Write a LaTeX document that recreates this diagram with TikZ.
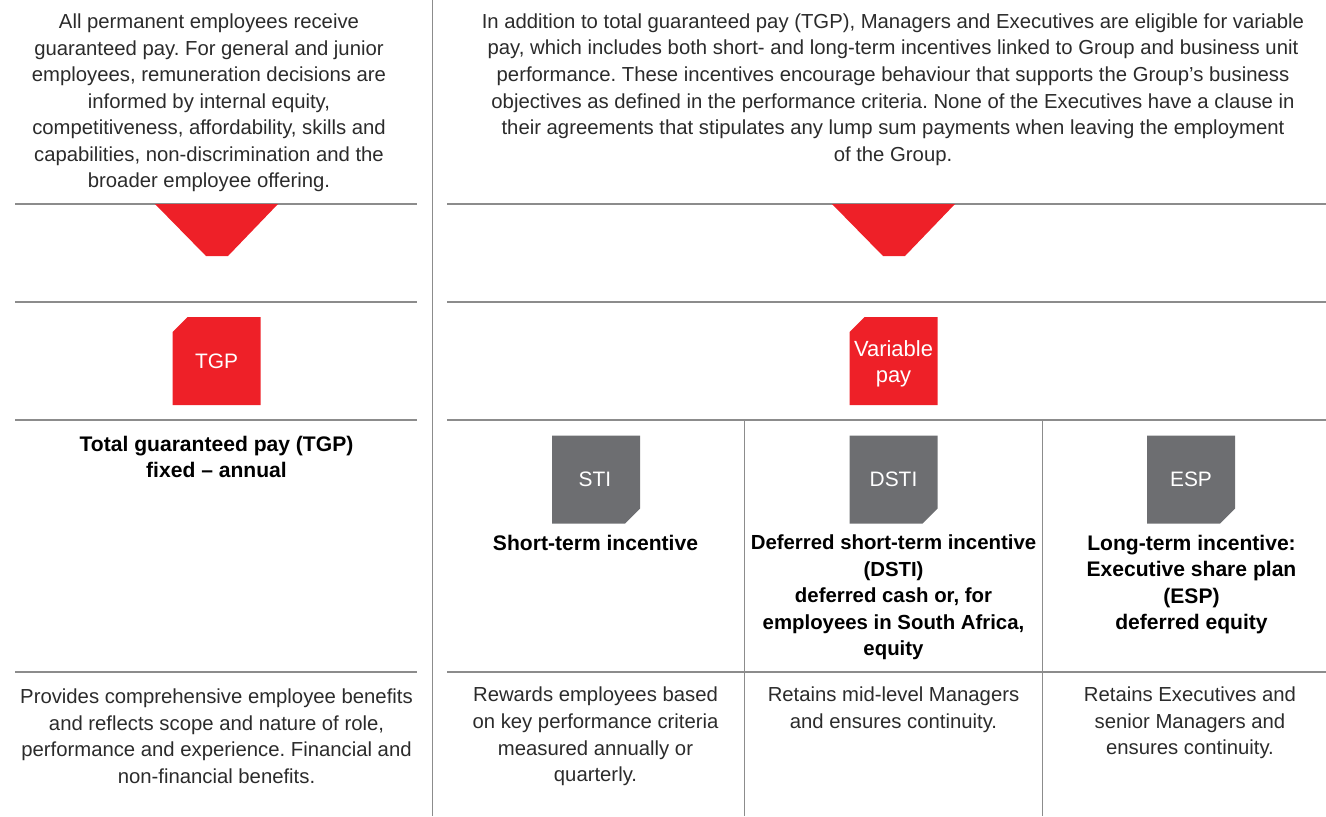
\documentclass[tikz,border=0pt]{standalone}
\usepackage{fontspec}
\setmainfont{Liberation Sans}
\usepackage{xcolor}
\usetikzlibrary{positioning}
\definecolor{sbred}{HTML}{EE2028}
\definecolor{sbgray}{HTML}{6D6E71}
\definecolor{ruleline}{HTML}{8C8C8C}
\definecolor{bodyink}{HTML}{2B2B2B}
\tikzset{
 rule/.style={ruleline, line width=0.025cm},
 bodytext/.style={inner sep=0pt, align=center, text=bodyink, font=\fontsize{11.55}{15.1}\selectfont\frenchspacing},
 headtext/.style={inner sep=0pt, align=center, text=black, font=\fontsize{12}{15.1}\selectfont\bfseries},
 tagtext/.style={inner sep=0pt, align=center, text=white, font=\fontsize{11.9}{15.1}\selectfont},
}
\begin{document}
\begin{tikzpicture}[x=0.02cm,y=-0.02cm]
\useasboundingbox (0,0) rectangle (1326,816);

% rules
\draw[rule] (15,204)--(417,204);
\draw[rule] (15,302)--(417,302);
\draw[rule] (15,420)--(417,420);
\draw[rule] (15,672)--(417,672);
\draw[rule] (447,204)--(1326,204);
\draw[rule] (447,302)--(1326,302);
\draw[rule] (447,420)--(1326,420);
\draw[rule] (447,672)--(1326,672);
\draw[rule] (432.5,0)--(432.5,816);
\draw[rule] (744.5,420)--(744.5,816);
\draw[rule] (1042.5,420)--(1042.5,816);

% red funnels
\fill[sbred] (155,204)--(278,204)--(228,256)--(206,256)--cycle;
\fill[sbred] (832,204)--(955,204)--(905,256)--(883,256)--cycle;

% tags
\fill[sbred] (172.5,332)--++(15,-15)--++(73,0)--++(0,88)--++(-88,0)--cycle;
\fill[sbred] (849.5,332)--++(15,-15)--++(73,0)--++(0,88)--++(-88,0)--cycle;
\foreach \tagx in {552,849.5,1147}
{
\fill[sbgray] (\tagx,435.5)--++(88,0)--++(0,73)--++(-15,15)--++(-73,0)--cycle;
}
\node[tagtext] (tgp) at (216.5,361) {TGP};
\node[tagtext, font=\fontsize{12.5}{15.1}\selectfont] (variable) at (893.5,364) {Variable\\pay};
\node[tagtext] (sti) at (595,479.5) {STI};
\node[tagtext] (dsti) at (893.5,479.5) {DSTI};
\node[tagtext] (esp) at (1191,479.5) {ESP};

% top texts
\node[bodytext] (topleft) at (209,103) {All permanent employees receive\\guaranteed pay. For general and junior\\employees, remuneration decisions are\\informed by internal equity,\\competitiveness, affordability, skills and\\capabilities, non-discrimination and the\\broader employee offering.};
\node[bodytext] (topright) at (893,89.5) {In addition to total guaranteed pay (TGP), Managers and Executives are eligible for variable\\pay, which includes both short- and long-term incentives linked to Group and business unit\\performance. These incentives encourage behaviour that supports the Group’s business\\objectives as defined in the performance criteria. None of the Executives have a clause in\\their agreements that stipulates any lump sum payments when leaving the employment\\of the Group.};

% headings
\node[headtext] (tgphead) at (216.5,457) {Total guaranteed pay (TGP)\\fixed – annual};
\node[headtext] (stihead) at (595.5,542.5) {Short-term incentive};
\node[headtext, font=\fontsize{11.6}{15.1}\selectfont\bfseries] (dstihead) at (893.5,597.5) {Deferred short-term incentive\\(DSTI)\\deferred cash or, for\\employees in South Africa,\\equity};
\node[headtext] (esphead) at (1191.5,584.5) {Long-term incentive:\\Executive share plan\\(ESP)\\deferred equity};

% bottom texts
\node[bodytext] (tgpnote) at (216.5,736) {Provides comprehensive employee benefits\\and reflects scope and nature of role,\\performance and experience. Financial and\\non-financial benefits.};
\node[bodytext] (stinote) at (595.5,736.5) {Rewards employees based\\on key performance criteria\\measured annually or\\quarterly.};
\node[bodytext] (dstinote) at (893.5,710) {Retains mid-level Managers\\and ensures continuity.};
\node[bodytext] (espnote) at (1190,723) {Retains Executives and\\senior Managers and\\ensures continuity.};

\end{tikzpicture}
\end{document}
